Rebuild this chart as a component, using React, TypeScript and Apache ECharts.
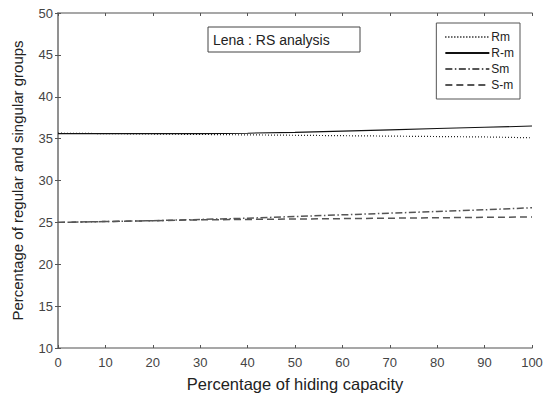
import React, { useEffect, useRef } from "react";
import * as echarts from "echarts";

const xValues = [0, 10, 20, 30, 40, 50, 60, 70, 80, 90, 100];
const rmValues = [35.65, 35.6, 35.55, 35.5, 35.45, 35.4, 35.35, 35.3, 35.25, 35.2, 35.1];
const rMinusValues = [35.6, 35.6, 35.6, 35.6, 35.65, 35.75, 35.9, 36.05, 36.2, 36.35, 36.5];
const smValues = [25.0, 25.1, 25.2, 25.35, 25.5, 25.7, 25.9, 26.1, 26.3, 26.5, 26.75];
const sMinusValues = [25.0, 25.1, 25.2, 25.3, 25.35, 25.4, 25.45, 25.5, 25.55, 25.6, 25.65];
const seriesNames = ["Rm", "R-m", "Sm", "S-m"];

const FONT = "Liberation Sans, Arial, sans-serif";

export default function App() {
  const ref = useRef<HTMLDivElement>(null);
  useEffect(() => {
    if (!ref.current) return;
    const chart = echarts.init(ref.current, undefined, { renderer: "svg" });
    const pair = (vals: number[]) => xValues.map((x, i) => [x, vals[i]]);
    const axisLine = { show: true, lineStyle: { color: "#8a8a8a", width: 1.5 } };
    const axisTick = { show: true, inside: true, length: 3, lineStyle: { color: "#555" } };
    chart.setOption({
      animation: false,
      textStyle: { fontFamily: FONT },
      grid: { left: 58, right: 20, top: 13, bottom: 46, containLabel: false, outerBoundsMode: "none" },
      xAxis: [
        {
          type: "value",
          min: 0,
          max: 100,
          interval: 10,
          name: "Percentage of hiding capacity",
          nameLocation: "middle",
          nameGap: 27,
          nameTextStyle: { fontSize: 16.5, color: "#222", fontFamily: FONT },
          axisLine,
          axisTick,
          splitLine: { show: false },
          axisLabel: { fontSize: 13, color: "#444", margin: 8, fontFamily: FONT },
        },
        {
          type: "value",
          position: "top",
          min: 0,
          max: 100,
          interval: 10,
          axisLine,
          axisTick,
          splitLine: { show: false },
          axisLabel: { show: false },
        },
      ],
      yAxis: [
        {
          type: "value",
          min: 10,
          max: 50,
          interval: 5,
          name: "Percentage of regular and singular groups",
          nameLocation: "middle",
          nameGap: 33,
          nameTextStyle: { fontSize: 15, color: "#222", fontFamily: FONT },
          axisLine,
          axisTick,
          splitLine: { show: false },
          axisLabel: { fontSize: 13, color: "#444", margin: 5, fontFamily: FONT },
        },
        {
          type: "value",
          position: "right",
          min: 10,
          max: 50,
          interval: 5,
          axisLine,
          axisTick,
          splitLine: { show: false },
          axisLabel: { show: false },
        },
      ],
      legend: {
        orient: "vertical",
        right: 32,
        top: 23,
        data: seriesNames,
        itemWidth: 44,
        itemHeight: 11,
        itemGap: 4,
        padding: [8, 6, 8, 8],
        borderColor: "#555",
        borderWidth: 1,
        backgroundColor: "#fff",
        itemStyle: { opacity: 0, borderWidth: 0 },
        textStyle: { fontSize: 12, color: "#222", fontFamily: FONT, padding: [0, 0, 0, -3] },
        align: "left",
      },
      graphic: [
        {
          type: "rect",
          shape: { x: 208, y: 27, width: 152, height: 25 },
          style: { fill: "#fff", stroke: "#444", lineWidth: 1 },
        },
        {
          type: "text",
          x: 213,
          y: 40,
          style: {
            text: "Lena : RS analysis",
            fontSize: 14,
            fontFamily: FONT,
            fill: "#222",
            verticalAlign: "middle",
          },
        },
      ],
      series: [
        {
          name: "Rm",
          type: "line",
          data: pair(rmValues),
          symbol: "none",
          lineStyle: { color: "#222", width: 1.2, type: [1, 2] },
          itemStyle: { color: "#222" },
        },
        {
          name: "R-m",
          type: "line",
          data: pair(rMinusValues),
          symbol: "none",
          lineStyle: { color: "#111", width: 1.1, type: "solid" },
          itemStyle: { color: "#111" },
        },
        {
          name: "Sm",
          type: "line",
          data: pair(smValues),
          symbol: "none",
          lineStyle: { color: "#555", width: 1.5, type: [7, 2.5, 1.5, 2.5] },
          itemStyle: { color: "#555" },
        },
        {
          name: "S-m",
          type: "line",
          data: pair(sMinusValues),
          symbol: "none",
          lineStyle: { color: "#555", width: 1.5, type: [7, 4] },
          itemStyle: { color: "#555" },
        },
      ],
    });
    return () => chart.dispose();
  }, []);
  return <div ref={ref} style={{ width: 552, height: 394, position: "absolute", left: 0, top: 0 }} />;
}
